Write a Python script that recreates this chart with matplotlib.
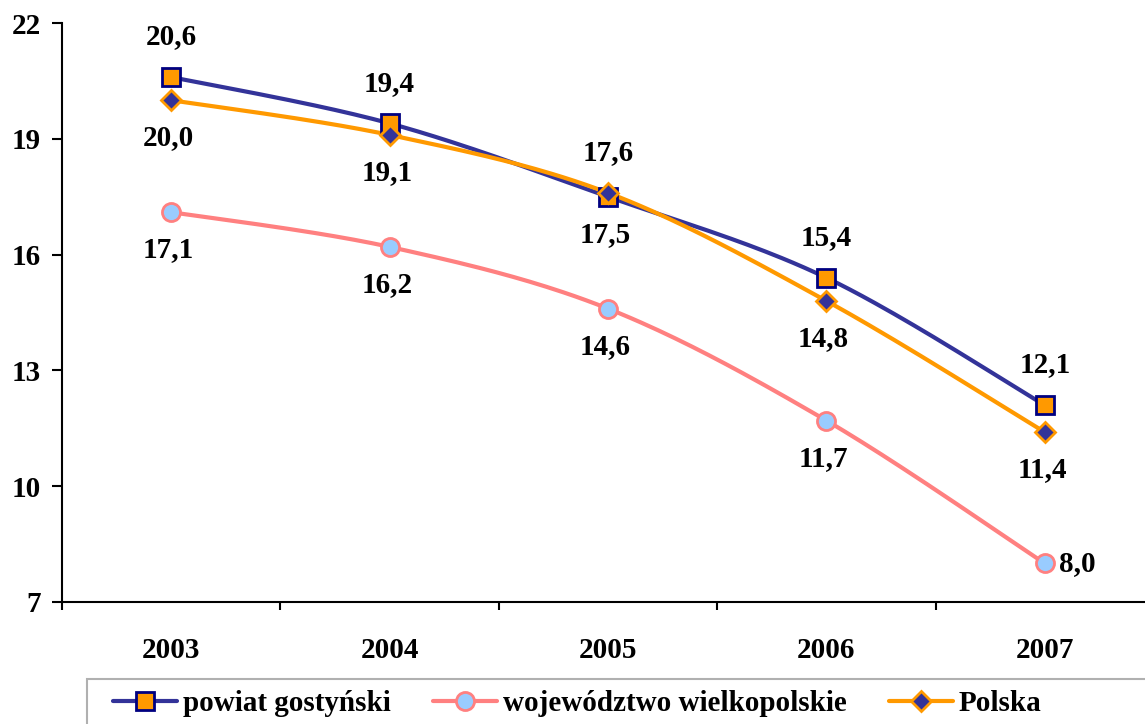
import numpy as np
import matplotlib
matplotlib.use("Agg")
import matplotlib.pyplot as plt
from matplotlib.lines import Line2D
from matplotlib.patches import Rectangle

years = ["2003", "2004", "2005", "2006", "2007"]
powiat = [20.6, 19.4, 17.5, 15.4, 12.1]
wojewodztwo = [17.1, 16.2, 14.6, 11.7, 8.0]
polska = [20.0, 19.1, 17.6, 14.8, 11.4]
series_names = ["powiat gostyński", "województwo wielkopolskie", "Polska"]
y_ticks = [7, 10, 13, 16, 19, 22]

# label placement per point
powiat_pos = ["above", "above", "below", "above", "above"]
woj_pos = ["below", "below", "below", "below", "right"]
polska_pos = ["below", "below", "above", "below", "below"]

plt.rcParams['font.family'] = ['Liberation Serif', 'DejaVu Serif']
plt.rcParams['font.weight'] = 'bold'
FS = 21

W, H = 1145, 724
fig = plt.figure(figsize=(W/100, H/100), dpi=100)
ax = fig.add_axes([62/W, 1-602/H, 1092/W, (602-23)/H])


def smooth(xs, ys, n=40):
    xs = np.asarray(xs, float); ys = np.asarray(ys, float)
    P = np.column_stack([xs, ys])
    out = []
    for i in range(len(P)-1):
        p0 = P[i-1] if i > 0 else P[i]
        p1 = P[i]; p2 = P[i+1]
        p3 = P[i+2] if i+2 < len(P) else P[i+1]
        c1 = p1 + (p2 - p0) / 6.0
        c2 = p2 - (p3 - p1) / 6.0
        t = np.linspace(0, 1, n)[:, None]
        seg = ((1-t)**3)*p1 + 3*((1-t)**2)*t*c1 + 3*(1-t)*(t**2)*c2 + (t**3)*p2
        out.append(seg if i == 0 else seg[1:])
    S = np.vstack(out)
    return S[:, 0], S[:, 1]

x = np.arange(len(years))

styles = [
    (powiat, dict(color='#333399', marker='s', mfc='#FF9900', mec='#000080', ms=13, mew=2), powiat_pos),
    (wojewodztwo, dict(color='#FF8080', marker='o', mfc='#99CCFF', mec='#FF8080', ms=13, mew=2), woj_pos),
    (polska, dict(color='#FF9900', marker='D', mfc='#333399', mec='#FF9900', ms=10, mew=2), polska_pos),
]

handles = []
for vals, st, pos in styles:
    sx, sy = smooth(x, vals)
    ax.plot(sx, sy, color=st['color'], lw=3, solid_capstyle='round', zorder=2)
    ax.plot(x, vals, ls='none', marker=st['marker'], mfc=st['mfc'], mec=st['mec'],
            ms=st['ms'], mew=st['mew'], zorder=3)
    handles.append(Line2D([], [], color=st['color'], lw=3, marker=st['marker'], mfc=st['mfc'],
                          mec=st['mec'], ms=st['ms'], mew=st['mew'], solid_capstyle='round'))
    for xi, v, p in zip(x, vals, pos):
        lab = f"{v:.1f}".replace('.', ',')
        if p == 'above':
            off, ha, va = (0, 29), 'center', 'center'
        elif p == 'below':
            off, ha, va = (-2, -27), 'center', 'center'
        else:
            off, ha, va = (10, 0), 'left', 'center'
        ax.annotate(lab, (xi, v), xytext=off, textcoords='offset points', ha=ha, va=va,
                    fontsize=FS, fontweight='bold', color='black', zorder=4)

ax.set_xlim(-0.5, len(years)-0.5)
ax.set_ylim(7, 22)
ax.set_yticks(y_ticks)
ax.set_yticklabels([str(t) for t in y_ticks], fontsize=FS, fontweight='bold')
ax.set_xticks(x)
ax.set_xticklabels(years, fontsize=FS, fontweight='bold')
ax.set_xticks(np.arange(-0.5, len(years)), minor=True)
ax.tick_params(axis='x', which='major', length=0, pad=25)
ax.tick_params(axis='x', which='minor', length=6, width=1.5, direction='out')
ax.tick_params(axis='y', which='major', length=7, width=1.5, direction='out', pad=8)
for s in ['top', 'right']:
    ax.spines[s].set_visible(False)
for s in ['left', 'bottom']:
    ax.spines[s].set_linewidth(1.5)

# legend frame (extends beyond the figure edge as in the reference)
fig.patches.append(Rectangle((87/W, -0.1), 1.2, 0.1 + (H-679)/H, transform=fig.transFigure,
                             facecolor='white', edgecolor='#B0B0B0', lw=1.5, zorder=0))
leg = fig.legend(handles, series_names, loc='upper left', bbox_to_anchor=(104/W, 1-681/H),
                 ncol=3, fontsize=FS, frameon=False, handlelength=2.2,
                 handletextpad=0.2, columnspacing=1.45, borderpad=0.3, borderaxespad=0)
for t in leg.get_texts():
    t.set_fontweight('bold')

fig.savefig("out.png", dpi=100)
